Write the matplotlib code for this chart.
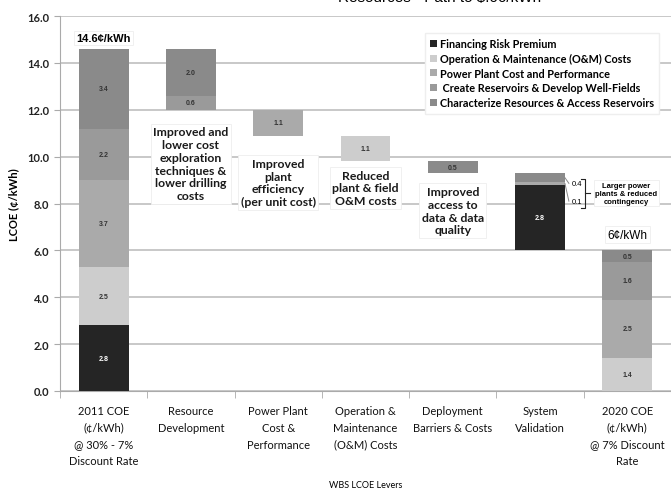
import numpy as np
import matplotlib.pyplot as plt

plt.rcParams['font.family'] = ['Lato', 'DejaVu Sans']

# categorias del eje x
categorias = ["2011 COE\n(¢/kWh)\n@ 30% - 7%\nDiscount Rate", "Resource\nDevelopment",
              "Power Plant\nCost &\nPerformance", "Operation &\nMaintenance\n(O&M) Costs",
              "Deployment\nBarriers & Costs", "System\nValidation",
              "2020 COE\n(¢/kWh)\n@ 7% Discount\nRate"]

# valores de cada componente por categoria
financiamiento = [2.8, 0, 0, 0, 0, 2.8, 0]
operacion = [2.5, 0, 0, 1.1, 0, 0, 1.4]
planta = [3.7, 0, 1.1, 0, 0, 0.1, 2.5]
reservorios = [2.2, 0.6, 0, 0, 0, 0, 1.6]
caracterizar = [3.4, 2.0, 0, 0, 0.5, 0.4, 0.5]

series = [financiamiento, operacion, planta, reservorios, caracterizar]
nombres = ["Financing Risk Premium", "Operation & Maintenance (O&M) Costs",
           "Power Plant Cost and Performance", " Create Reservoirs & Develop Well-Fields",
           "Characterize Resources & Access Reservoirs"]
colores = ['#252525', '#cdcdcd', '#aaaaaa', '#9a9a9a', '#8a8a8a']

# textos explicativos
notas = ["Improved and\nlower cost\nexploration\ntechniques &\nlower drilling\ncosts",
         "Improved\nplant\nefficiency\n(per unit cost)",
         "Reduced\nplant & field\nO&M costs",
         "Improved\naccess to\ndata & data\nquality"]
notas_y = [11.3, 9.95, 9.45, 8.75]

n = len(categorias)
x = np.arange(n)
totales = np.array(series).sum(axis=0)

# base de la cascada
base = np.zeros(n)
nivel = totales[0]
for i in range(1, n - 1):
    nivel = nivel - totales[i]
    base[i] = nivel

fig = plt.figure(figsize=(6.71, 4.89), dpi=100)
ax = fig.add_axes([60/671, 1-392/489, 611/671, 375/489])

ancho = 0.57
abajo = base.copy()
for s, c, nom in zip(series, colores, nombres):
    s = np.array(s)
    ax.bar(x, s, ancho, bottom=abajo, color=c, label=nom, zorder=3)
    for i in range(n):
        if s[i] > 0 and not (i == 5 and s[i] < 1):
            col = 'white' if c == '#252525' else '#333333'
            ax.text(x[i], abajo[i] + s[i]/2, f"{s[i]:.1f}", ha='center', va='center',
                    fontsize=5, color=col, family='Liberation Sans', fontweight='bold', zorder=4)
    abajo = abajo + s

ax.set_xlim(-0.5, n - 0.5)
ax.set_ylim(0, 16)
ax.set_yticks(np.arange(0, 16.1, 2))
ax.set_yticklabels([f"{v:.1f}" for v in np.arange(0, 16.1, 2)], fontsize=8, fontweight='bold', color='#222222')
ax.yaxis.grid(True, color='#c4c4c4', lw=1.3, zorder=0)
ax.set_xticks(x)
ax.set_xticklabels(categorias, fontsize=8, color='#111111', linespacing=1.65)
ax.set_xticks(np.arange(-0.5, n, 1), minor=True)
ax.tick_params(axis='x', which='major', length=0, pad=10)
ax.tick_params(axis='x', which='minor', length=5, color='#aaaaaa')
ax.tick_params(axis='y', length=4, color='#aaaaaa')
for lado in ['top', 'right']:
    ax.spines[lado].set_visible(False)
ax.spines['left'].set_color('#aaaaaa')
ax.spines['bottom'].set_color('#aaaaaa')
ax.set_ylabel("LCOE (¢/kWh)", fontsize=8, fontweight='bold', labelpad=6)
ax.set_xlabel("WBS LCOE Levers", fontsize=6.5, labelpad=10)

caja = dict(boxstyle='square,pad=0.2', fc='white', ec='#eeeeee', lw=0.6)
for i, (t, yy) in enumerate(zip(notas, notas_y)):
    ax.text(x[i + 1], yy, t, ha='center', va='top', fontsize=8.8, fontweight='bold',
            color='#1a1a1a', bbox=caja, zorder=5, linespacing=1.2)

ax.text(x[0], 15.05, f"{totales[0]:.1f}¢/kWh", ha='center', va='center', fontsize=8,
        fontweight='bold', family='Liberation Sans', bbox=caja, zorder=5)
ax.text(x[-1], 6.67, f"{totales[-1]:.0f}¢/kWh", ha='center', va='center', fontsize=8.5,
        family='Liberation Sans', bbox=caja, zorder=5)

# corchete de la validacion del sistema
borde = x[5] + ancho/2
ax.plot([borde, 5.33], [9.1, 8.86], color='#888888', lw=0.7, zorder=4)
ax.plot([borde, 5.33], [8.85, 8.1], color='#888888', lw=0.7, zorder=4)
ax.text(5.36, 8.86, "0.4", fontsize=5.5, va='center', ha='left', family='Liberation Sans', zorder=5)
ax.text(5.36, 8.1, "0.1", fontsize=5.5, va='center', ha='left', family='Liberation Sans', zorder=5)
ax.plot([5.47, 5.52, 5.52, 5.47], [9.06, 9.06, 7.8, 7.8], color='#222222', lw=0.8, zorder=5)
ax.plot([5.52, 5.57], [8.43, 8.43], color='#222222', lw=0.8, zorder=5)
ax.text(5.99, 8.43, "Larger power\nplants & reduced\ncontingency", fontsize=5.5, ha='center',
        va='center', family='Liberation Sans', fontweight='bold', bbox=caja, zorder=5)

h, l = ax.get_legend_handles_labels()
leg = ax.legend(h, l, loc='upper right', bbox_to_anchor=(0.99, 0.97),
                prop={'size': 7.8, 'weight': 'bold'},
                handlelength=0.6, handleheight=0.6, handletextpad=0.3, labelspacing=0.35,
                frameon=True, fancybox=False, edgecolor='#eeeeee', framealpha=1,
                borderpad=0.5)
leg.set_zorder(6)

fig.text(0.655, 1.004, "Resources - Path to $.06/kWh", ha='center', va='center', fontsize=11,
         family='Liberation Sans')

fig.savefig("out.png", dpi=100)
